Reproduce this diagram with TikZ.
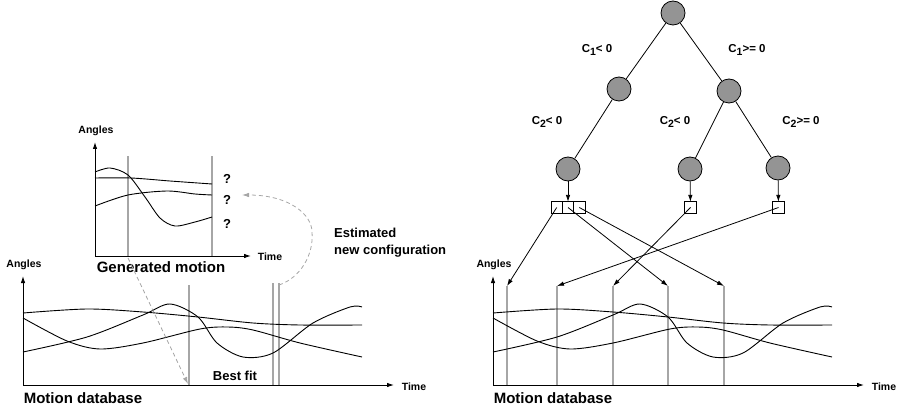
\documentclass[tikz,border=0pt]{standalone}
\usepackage{fontspec}
\setmainfont{Liberation Sans}
\usetikzlibrary{arrows.meta,positioning}

% axes, labels and the three angle curves of a motion plot
\newcommand{\motionplot}{%
  \draw[axis] (23,385) -- (394,385);
  \draw[axis] (23,385) -- (23,276);
  \node[small] at (24,265) {Angles};
  \node[small] at (414,387) {Time};
  \node[title] at (83,398) {Motion database};
  \draw[curve] plot[smooth] coordinates {(23,313) (87,309) (143,312) (198,317) (253,323) (300,325) (362,325)};
  \draw[curve] plot[smooth] coordinates {(23,318) (67,341) (100,349) (143,343) (200,329) (228,327) (253,330) (300,343) (362,357)};
  \draw[curve] plot[smooth] coordinates {(23,352) (87,337) (143,315) (170,304) (198,317) (217,343) (243,357) (273,353) (313,323) (350,307) (362,307)};
}
% lowered index for the tree conditions
\newcommand{\idx}[1]{\raisebox{-0.45ex}{\fontsize{10.5}{12}\selectfont #1}}

\begin{document}
\begin{tikzpicture}[x=1pt,y=-1pt,>={Latex[length=7pt,width=4.5pt]},
    every node/.style={font=\bfseries, inner sep=1pt},
    small/.style={font=\bfseries\fontsize{10.5}{12}\selectfont},
    mid/.style={font=\bfseries\fontsize{13}{17}\selectfont},
    cond/.style={font=\bfseries\fontsize{11.5}{13}\selectfont},
    title/.style={font=\bfseries\fontsize{15}{17}\selectfont},
    axis/.style={->, line width=0.9pt},
    curve/.style={line width=0.9pt},
    marker/.style={line width=1.2pt, black!35},
    guess/.style={->, dash pattern=on 4pt off 3pt, line width=0.8pt, black!35},
    test/.style={circle, draw, line width=0.8pt, fill=black!42, minimum size=24pt, inner sep=0pt},
    leaf/.style={rectangle, draw, line width=0.8pt, minimum size=11.3pt, inner sep=0pt, outer sep=0pt}]
  \useasboundingbox (0,0) rectangle (902,409);

  % generated motion
  \draw[marker] (128,156) -- (128,256);
  \draw[marker] (212,156) -- (212,256);
  \draw[axis] (95,256) -- (251,256);
  \draw[axis] (95,256) -- (95,142);
  \node[small] at (96,131) {Angles};
  \node[small] at (270,257) {Time};
  \node[title] at (161,267) {Generated motion};
  \draw[curve] plot[smooth] coordinates {(95,172) (110,168) (128,175) (145,197) (160,218) (175,226) (195,222) (212,217)};
  \draw[curve] plot[smooth] coordinates {(95,178) (131,178) (170,181) (212,184)};
  \draw[curve] plot[smooth] coordinates {(95,206) (128,195) (167,191) (195,194) (212,195)};
  \node[mid] (q1) at (227,179) {?};
  \node[mid] (q2) at (227,200) {?};
  \node[mid] (q3) at (227,224) {?};
  \node[mid, anchor=west, align=left] (est) at (333,243) {Estimated\\new configuration};

  % left database and best fit
  \draw[marker] (189,285) -- (189,385);
  \draw[marker] (273,283) -- (273,385);
  \draw[marker] (279,283) -- (279,385);
  \motionplot
  \node[mid] (fitlbl) at (235,376) {Best fit};
  \coordinate (gstart) at (128,258);
  \coordinate (fit) at (188,384);
  \coordinate (best) at (279,285);
  \coordinate (newconf) at (242,195);
  \draw[guess] (gstart) -- (fit);
  \draw[guess] (best) .. controls (300,278) and (314,255) .. (312,232)
    .. controls (312,215) and (290,195) .. (newconf);

  % right database
  \foreach \x/\name in {507/m1, 557/m2, 613/m3, 668/m4, 724/m5} {
    \draw[marker] (\x,286) -- (\x,385);
    \coordinate (\name) at (\x,286);
  }
  \begin{scope}[xshift=470pt]
    \motionplot
  \end{scope}

  % decision tree
  \node[test] (root) at (673,13) {};
  \node[test] (c1l) at (619,89) {};
  \node[test] (c1r) at (729,91) {};
  \node[test] (leafa) at (568,169) {};
  \node[test] (leafb) at (690,169) {};
  \node[test] (leafc) at (778,168) {};
  \draw[line width=0.8pt] (root) -- (c1l);
  \draw[line width=0.8pt] (root) -- (c1r);
  \draw[line width=0.8pt] (c1l) -- (leafa);
  \draw[line width=0.8pt] (c1r) -- (leafb);
  \draw[line width=0.8pt] (c1r) -- (leafc);
  \node[cond] at (597,50) {C\idx{1}< 0};
  \node[cond] at (747,50) {C\idx{1}>= 0};
  \node[cond] at (547,122) {C\idx{2}< 0};
  \node[cond] at (675,122) {C\idx{2}< 0};
  \node[cond] at (801,122) {C\idx{2}>= 0};

  \node[leaf] (a2) at (568,207.5) {};
  \node[leaf, left=0pt of a2] (a1) {};
  \node[leaf, right=0pt of a2] (a3) {};
  \node[leaf] (b1) at (690.5,207.5) {};
  \node[leaf] (c1) at (778.5,207.5) {};
  \draw[->, line width=0.8pt] (leafa) -- (a2);
  \draw[->, line width=0.8pt] (leafb) -- (b1);
  \draw[->, line width=0.8pt] (leafc) -- (c1);

  \draw[->, line width=0.8pt] (a1.center) -- (m1);
  \draw[->, line width=0.8pt] (a2.center) -- (m4);
  \draw[->, line width=0.8pt] (a3.center) -- (m5);
  \draw[->, line width=0.8pt] (b1.center) -- (m3);
  \draw[->, line width=0.8pt] (c1.center) -- (m2);
\end{tikzpicture}
\end{document}
